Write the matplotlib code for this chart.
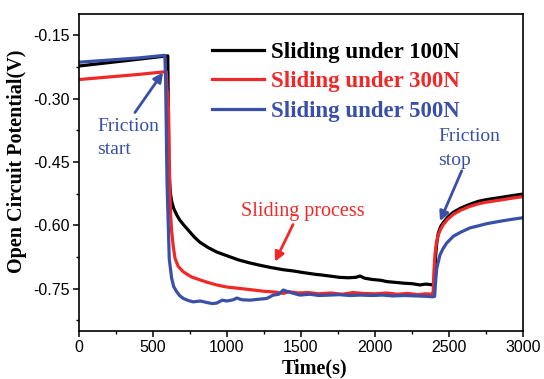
import matplotlib
matplotlib.use("Agg")
import matplotlib.pyplot as plt

# ---------------- data ----------------
t_100 = [0, 200, 400, 570, 600, 603, 607, 612, 618, 626, 640, 660, 680, 705, 740, 780, 817, 870, 930,
         1000, 1080, 1155, 1230, 1300, 1381, 1450, 1520, 1600, 1628, 1696, 1760, 1820, 1870, 1899, 1930,
         1980, 2040, 2079, 2140, 2200, 2250, 2304, 2340, 2372, 2395, 2405, 2410, 2418, 2428, 2445, 2462,
         2490, 2529, 2580, 2642, 2700, 2755, 2850, 2920, 3000]
v_100 = [-0.223, -0.215, -0.207, -0.200, -0.199, -0.30, -0.45, -0.495, -0.525, -0.543, -0.560, -0.575,
         -0.587, -0.598, -0.612, -0.628, -0.640, -0.652, -0.663, -0.672, -0.682, -0.689, -0.695, -0.700,
         -0.705, -0.708, -0.712, -0.716, -0.717, -0.720, -0.723, -0.724, -0.723, -0.720, -0.725, -0.728,
         -0.730, -0.733, -0.735, -0.737, -0.738, -0.741, -0.739, -0.740, -0.741, -0.72, -0.67, -0.64,
         -0.618, -0.602, -0.593, -0.581, -0.569, -0.559, -0.550, -0.543, -0.539, -0.534, -0.530, -0.526]

t_300 = [0, 200, 400, 570, 590, 595, 600, 605, 610, 615, 620, 626, 637, 649, 670, 705, 760, 817, 870,
         930, 1000, 1080, 1155, 1250, 1330, 1381, 1420, 1480, 1550, 1620, 1700, 1780, 1850, 1920, 2000,
         2080, 2150, 2220, 2290, 2340, 2385, 2393, 2398, 2405, 2415, 2428, 2445, 2462, 2490, 2529, 2580,
         2642, 2700, 2755, 2850, 2920, 3000]
v_300 = [-0.255, -0.249, -0.243, -0.237, -0.236, -0.28, -0.29, -0.33, -0.45, -0.53, -0.58, -0.614,
         -0.650, -0.678, -0.697, -0.710, -0.722, -0.729, -0.735, -0.741, -0.746, -0.749, -0.752, -0.756,
         -0.758, -0.761, -0.757, -0.760, -0.759, -0.762, -0.760, -0.763, -0.759, -0.761, -0.762, -0.760,
         -0.763, -0.761, -0.764, -0.762, -0.763, -0.757, -0.71, -0.670, -0.640, -0.622, -0.608, -0.598,
         -0.586, -0.574, -0.564, -0.555, -0.549, -0.545, -0.540, -0.536, -0.532]

t_500 = [0, 200, 400, 570, 580, 585, 595, 610, 626, 640, 660, 680, 705, 740, 772, 820, 870, 900, 930,
         968, 1000, 1043, 1066, 1100, 1155, 1210, 1268, 1313, 1350, 1381, 1403, 1440, 1493, 1560, 1620,
         1696, 1760, 1830, 1900, 1980, 2050, 2120, 2200, 2280, 2350, 2390, 2403, 2408, 2417, 2439, 2460,
         2484, 2529, 2580, 2642, 2700, 2755, 2850, 2920, 3000]
v_500 = [-0.214, -0.209, -0.204, -0.198, -0.198, -0.25, -0.50, -0.68, -0.725, -0.745, -0.757, -0.766,
         -0.773, -0.778, -0.781, -0.779, -0.783, -0.785, -0.784, -0.777, -0.779, -0.776, -0.772, -0.776,
         -0.777, -0.775, -0.773, -0.765, -0.763, -0.753, -0.756, -0.760, -0.765, -0.763, -0.766, -0.765,
         -0.764, -0.766, -0.765, -0.766, -0.765, -0.767, -0.766, -0.767, -0.768, -0.769, -0.768, -0.74,
         -0.702, -0.670, -0.655, -0.642, -0.626, -0.616, -0.606, -0.601, -0.596, -0.590, -0.586, -0.582]

labels = ["Sliding under 100N", "Sliding under 300N", "Sliding under 500N"]
colors = ["#000000", "#f02828", "#3a50a8"]

x_ticks = [0, 500, 1000, 1500, 2000, 2500, 3000]
y_ticks = [-0.75, -0.60, -0.45, -0.30, -0.15]

# ---------------- figure ----------------
serif = "Liberation Serif"
sans = "Liberation Sans"

fig = plt.figure(figsize=(5.44, 3.79), dpi=100)
ax = fig.add_axes([0.1452, 0.1266, 0.8162, 0.8364])

for t, v, lab, c in zip([t_100, t_300, t_500], [v_100, v_300, v_500], labels, colors):
    ax.plot(t, v, color=c, lw=2.3, label=lab, solid_joinstyle="round")

ax.set_xlim(0, 3000)
ax.set_ylim(-0.85, -0.10)
ax.set_xticks(x_ticks)
ax.set_yticks(y_ticks)
ax.set_xticklabels([str(x) for x in x_ticks], fontfamily=sans, fontsize=11.5)
ax.set_yticklabels(["%.2f" % y for y in y_ticks], fontfamily=sans, fontsize=11.5)
ax.set_xticks([250, 750, 1250, 1750, 2250, 2750], minor=True)
ax.set_yticks([-0.825, -0.675, -0.525, -0.375, -0.225], minor=True)
ax.tick_params(which="major", direction="out", length=4.5, width=1.1, pad=2)
ax.tick_params(which="minor", direction="out", length=2.3, width=1.0)
for s in ax.spines.values():
    s.set_linewidth(1.2)

ax.set_xlabel("Time(s)", fontfamily=serif, fontweight="bold", fontsize=14.5)
ax.set_ylabel("Open Circuit Potential(V)", fontfamily=serif, fontweight="bold", fontsize=14.5)
ax.xaxis.set_label_coords(0.53, -0.087)
ax.yaxis.set_label_coords(-0.118, 0.536)

leg = ax.legend(loc="upper left", bbox_to_anchor=(0.299, 0.912), frameon=False,
                prop={"family": serif, "weight": "bold", "size": 16.5},
                handlelength=2.3, handletextpad=0.3, labelspacing=0.36, borderpad=0, borderaxespad=0)
for txt, c in zip(leg.get_texts(), colors):
    txt.set_color(c)

blue = colors[2]
red = colors[1]
ax.text(125, -0.393, "Friction\nstart", color=blue, fontfamily=serif, fontsize=14,
        ha="left", va="center", linespacing=1.5)
ax.annotate("", xy=(568, -0.238), xytext=(378, -0.333),
            arrowprops=dict(arrowstyle="-|>", color=blue, lw=2, mutation_scale=14, shrinkA=0, shrinkB=0))

ax.text(2426, -0.418, "Friction\nstop", color=blue, fontfamily=serif, fontsize=14,
        ha="left", va="center", linespacing=1.5)
ax.annotate("", xy=(2439, -0.590), xytext=(2586, -0.471),
            arrowprops=dict(arrowstyle="-|>", color=blue, lw=2, mutation_scale=14, shrinkA=0, shrinkB=0))

ax.text(1514, -0.567, "Sliding process", color=red, fontfamily=serif, fontsize=14.5,
        ha="center", va="center")
ax.annotate("", xy=(1324, -0.686), xytext=(1446, -0.598),
            arrowprops=dict(arrowstyle="-|>", color=red, lw=2, mutation_scale=14, shrinkA=0, shrinkB=0))

fig.savefig("out.png", dpi=100)
